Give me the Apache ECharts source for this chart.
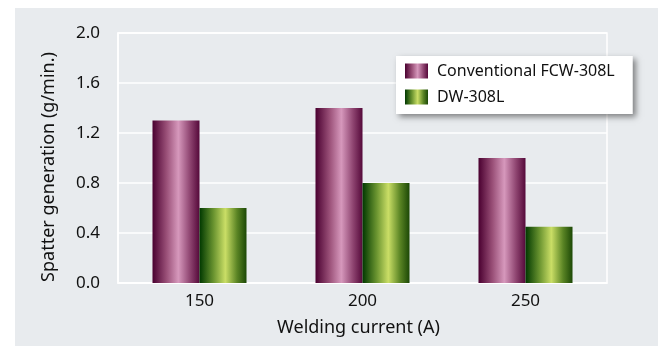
<!DOCTYPE html>
<html>
<head>
<meta charset="utf-8">
<script src="https://cdn.jsdelivr.net/npm/echarts@6/dist/echarts.min.js"></script>
<style>
    html, body { margin: 0; padding: 0; background: #fff; }
    #chart { width: 658px; height: 346px; }
</style>
</head>
<body>
<div id="chart"></div>
<script>
var currents = ['150', '200', '250'];
var conventional = [1.3, 1.4, 1.0];
var dw = [0.6, 0.8, 0.45];
var seriesNames = ['Conventional FCW-308L', 'DW-308L'];

var chart = echarts.init(document.getElementById('chart'));
var font = '"Noto Sans", sans-serif';

function barGradient(stops) {
    return new echarts.graphic.LinearGradient(0, 0, 1, 0, stops);
}

var purple = barGradient([
    { offset: 0, color: '#4a0030' },
    { offset: 0.3, color: '#9a5078' },
    { offset: 0.55, color: '#d698bc' },
    { offset: 0.8, color: '#8e4470' },
    { offset: 1, color: '#55093a' }
]);
var green = barGradient([
    { offset: 0, color: '#003800' },
    { offset: 0.3, color: '#6a9430' },
    { offset: 0.55, color: '#cade66' },
    { offset: 0.8, color: '#5a8424' },
    { offset: 1, color: '#1c4806' }
]);

var option = {
    backgroundColor: '#ffffff',
    graphic: [{
        type: 'rect',
        z: -10,
        shape: { x: 15, y: 8, width: 643, height: 338 },
        style: { fill: '#e8ebee' }
    }],
    grid: {
        left: 118,
        right: 51,
        top: 33,
        bottom: 63,
        show: true,
        borderColor: '#ffffff',
        borderWidth: 1.5,
        backgroundColor: 'transparent'
    },
    legend: {
        data: seriesNames,
        orient: 'vertical',
        left: 396,
        top: 56,
        padding: [7, 18, 9, 9],
        itemGap: 10,
        itemWidth: 23,
        itemHeight: 15,
        icon: 'rect',
        backgroundColor: '#ffffff',
        shadowBlur: 6,
        shadowColor: 'rgba(0,0,0,0.45)',
        shadowOffsetX: 3,
        shadowOffsetY: 3,
        textStyle: {
            fontFamily: font,
            fontSize: 16,
            color: '#111111',
            padding: [0, 0, 0, 4]
        }
    },
    xAxis: {
        type: 'category',
        data: currents,
        name: 'Welding current (A)',
        nameLocation: 'middle',
        nameGap: 36,
        nameTextStyle: { fontFamily: font, fontSize: 18, color: '#111111', padding: [0, 8, 0, 0] },
        axisLine: { lineStyle: { color: '#ffffff', width: 1.5 } },
        axisTick: { inside: true, length: 4, lineStyle: { color: '#ffffff' } },
        axisLabel: { fontFamily: font, fontSize: 17, color: '#111111', margin: 10 }
    },
    yAxis: {
        type: 'value',
        min: 0,
        max: 2.0,
        interval: 0.4,
        name: 'Spatter generation (g/min.)',
        nameLocation: 'middle',
        nameGap: 60,
        nameTextStyle: { fontFamily: font, fontSize: 18, color: '#111111', padding: [0, 18, 0, 0] },
        axisLine: { show: true, lineStyle: { color: '#ffffff', width: 1.5 } },
        axisTick: { show: false },
        axisLabel: {
            fontFamily: font,
            fontSize: 17,
            color: '#111111',
            margin: 18,
            formatter: function(v) { return v.toFixed(1); }
        },
        splitLine: { lineStyle: { color: '#ffffff', width: 1.5 } }
    },
    series: [{
        name: seriesNames[0],
        type: 'bar',
        data: conventional,
        barWidth: 47,
        barGap: '0%',
        itemStyle: { color: purple }
    }, {
        name: seriesNames[1],
        type: 'bar',
        data: dw,
        barWidth: 47,
        itemStyle: { color: green }
    }]
};

chart.setOption(option);
</script>
</body>
</html>
